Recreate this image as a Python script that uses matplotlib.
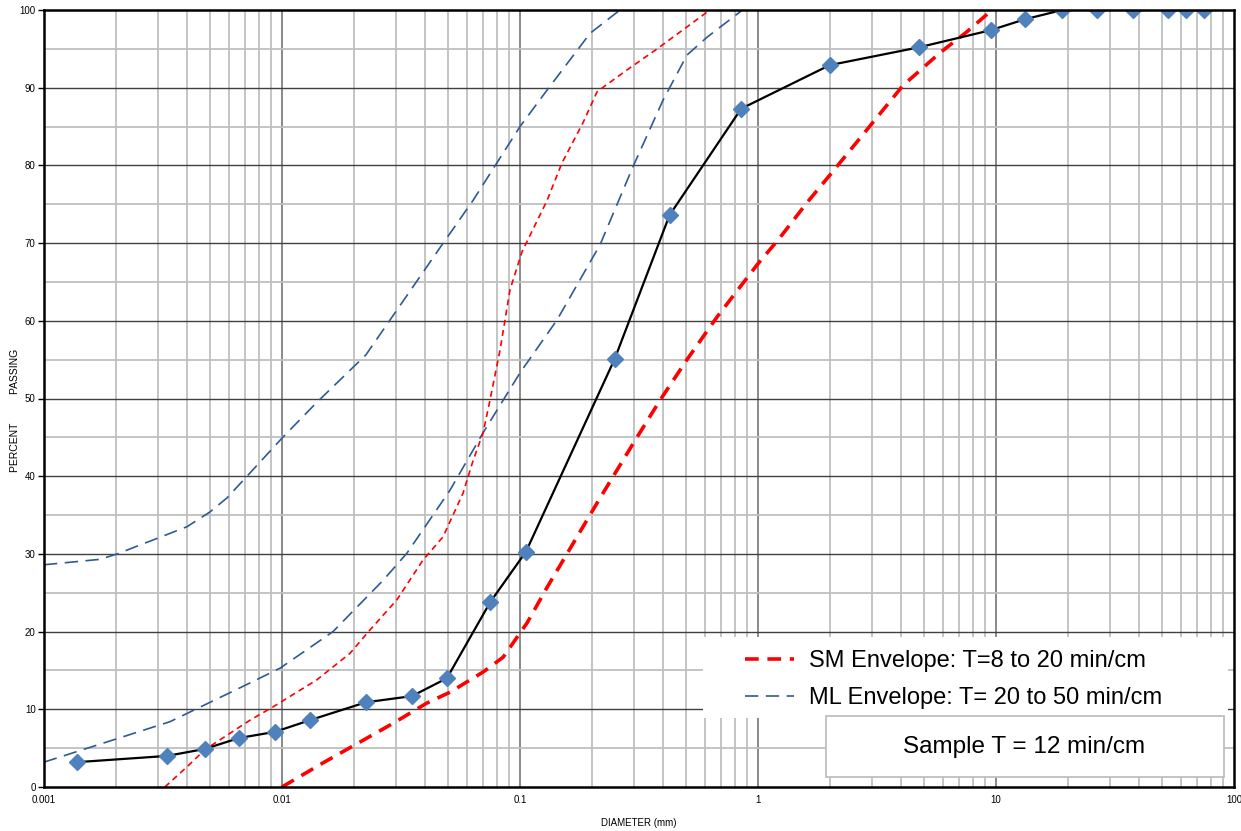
import numpy as np
import matplotlib.pyplot as plt
from matplotlib.patches import Rectangle
from matplotlib.ticker import FixedLocator, NullFormatter

plt.rcParams['font.family'] = ['Liberation Sans', 'DejaVu Sans']

# образец (sample), диаметр мм / % проходящих
sample_d = [0.00138, 0.00329, 0.00474, 0.00659, 0.00935, 0.0131, 0.0225, 0.0352, 0.0493,
            0.075, 0.106, 0.25, 0.425, 0.85, 2.0, 4.75, 9.5, 13.2, 19.0, 26.5, 37.5, 53.0, 63.0, 75.0]
sample_p = [3.2, 4.0, 4.9, 6.3, 7.1, 8.6, 10.9, 11.7, 14.0,
            23.8, 30.3, 55.1, 73.6, 87.3, 92.9, 95.2, 97.4, 98.8, 100, 100, 100, 100, 100, 100]

# SM envelope - грубая граница (толстая)
sm_coarse_d = [0.01, 0.01486, 0.0213, 0.0293, 0.0406, 0.0508, 0.070, 0.0849, 0.107, 0.130,
               0.217, 0.310, 0.388, 0.503, 0.673, 0.991, 1.236, 1.606, 2.01, 2.87, 4.07, 5.82, 7.55, 9.62]
sm_coarse_p = [0, 3.1, 5.8, 8.2, 10.8, 12.2, 14.8, 16.7, 21.1, 25.7,
               37.2, 45.0, 49.8, 55.0, 60.5, 67.2, 70.7, 75.2, 78.8, 84.6, 90.3, 94.5, 97.2, 100]

# SM envelope - тонкая граница
sm_fine_d = [0.00322, 0.00399, 0.00474, 0.00734, 0.00916, 0.01402, 0.0193, 0.0234, 0.0304, 0.0391,
             0.0475, 0.0576, 0.0635, 0.070, 0.0748, 0.0824, 0.0908, 0.102, 0.130, 0.150, 0.184,
             0.211, 0.282, 0.377, 0.628]
sm_fine_p = [0, 2.6, 4.8, 8.6, 10.3, 13.8, 17.2, 20.2, 24.1, 29.2,
             32.2, 37.8, 42.0, 45.6, 49.8, 56.2, 64.0, 68.9, 75.5, 80.3, 85.5,
             89.5, 92.3, 95.0, 100]

# ML envelope - левая
ml_fine_d = [0.001, 0.00172, 0.00203, 0.00299, 0.00399, 0.00498, 0.00587, 0.00713, 0.01, 0.014,
             0.0225, 0.0461, 0.0635, 0.1, 0.130, 0.197, 0.263]
ml_fine_p = [28.6, 29.3, 30.0, 32.0, 33.5, 35.4, 37.2, 40.0, 44.9, 49.5,
             55.6, 69.4, 75.5, 85.0, 89.7, 97.0, 100]

# ML envelope - правая
ml_coarse_d = [0.001, 0.00338, 0.00735, 0.00982, 0.01638, 0.0266, 0.0335, 0.0418, 0.0508, 0.070,
               0.1, 0.143, 0.217, 0.298, 0.399, 0.503, 0.611, 0.86]
ml_coarse_p = [3.2, 8.4, 13.4, 15.3, 20.0, 26.6, 30.1, 34.4, 38.2, 45.6,
               53.3, 60.1, 69.8, 79.8, 88.4, 94.2, 96.5, 100]

x_ticks = [0.001, 0.01, 0.1, 1, 10, 100]
x_labels = ['0.001', '0.01', '0.1', '1', '10', '100']

fig = plt.figure(figsize=(12.41, 8.31), dpi=100)
ax = fig.add_axes([44 / 1241, 44 / 831, 1190 / 1241, 777 / 831])
ax.set_xscale('log')
ax.set_xlim(0.001, 100)
ax.set_ylim(0, 100)

# сетка
minor_x = [m * 10.0 ** e for e in range(-3, 2) for m in range(2, 10)]
for xv in minor_x:
    ax.axvline(xv, color='#bfbfbf', lw=1.3, zorder=0)
for xv in x_ticks[1:-1]:
    ax.axvline(xv, color='#808080', lw=1.3, zorder=0)
for yv in range(5, 100, 10):
    ax.axhline(yv, color='#bfbfbf', lw=1.3, zorder=0)
for yv in range(10, 100, 10):
    ax.axhline(yv, color='#404040', lw=1.0, zorder=0)

ax.plot(ml_fine_d, ml_fine_p, color='#2e5a94', lw=1.2, dashes=(8, 4.5), zorder=2,
        label='ML Envelope: T= 20 to 50 min/cm')
ax.plot(ml_coarse_d, ml_coarse_p, color='#2e5a94', lw=1.2, dashes=(8, 4.5), zorder=2)
ax.plot(sm_fine_d, sm_fine_p, color='#ff0000', lw=1.2, dashes=(3.6, 2.6), zorder=2)
ax.plot(sm_coarse_d, sm_coarse_p, color='#ff0000', lw=2.6, dashes=(3.8, 2.4), zorder=2,
        label='SM Envelope: T=8 to 20 min/cm')
ax.plot(sample_d, sample_p, color='black', lw=1.6, marker='D', ms=8,
        mfc='#4f81bd', mec='#4f81bd', zorder=3)

ax.xaxis.set_major_locator(FixedLocator(x_ticks))
ax.set_xticklabels(x_labels)
ax.xaxis.set_minor_formatter(NullFormatter())
ax.tick_params(axis='x', which='both', length=0, labelsize=7, pad=6)
ax.set_yticks(range(0, 101, 10))
ax.tick_params(axis='y', length=4, width=1, labelsize=7, pad=2)

for s in ax.spines.values():
    s.set_linewidth(1.8)
    s.set_color('black')
    s.set_zorder(5)

ax.set_xlabel('DIAMETER (mm)', fontsize=7, labelpad=9)
fig.text(15 / 1241, 1 - 410 / 831, 'PERCENT          PASSING', rotation=90,
         fontsize=7.5, ha='center', va='center')

# белый фон под легендой
ax.add_patch(Rectangle((0.5538, 0.0888), 0.441, 0.104, transform=ax.transAxes,
                       facecolor='white', edgecolor='none', zorder=6))

h, l = ax.get_legend_handles_labels()
leg = ax.legend(h[::-1], l[::-1], loc='upper left', bbox_to_anchor=(0.589, 0.176),
                fontsize=17, frameon=False, handlelength=2.1, handletextpad=0.63,
                borderaxespad=0, labelspacing=0.63, borderpad=0)
leg.set_zorder(7)

ax.add_patch(Rectangle((0.657, 0.0129), 0.335, 0.0785, transform=ax.transAxes,
                       facecolor='white', edgecolor='#bfbfbf', lw=1.3, zorder=8))
ax.text(0.824, 0.052, 'Sample T = 12 min/cm', transform=ax.transAxes,
        fontsize=17.5, ha='center', va='center', zorder=9)

fig.savefig('out.png', dpi=100)
